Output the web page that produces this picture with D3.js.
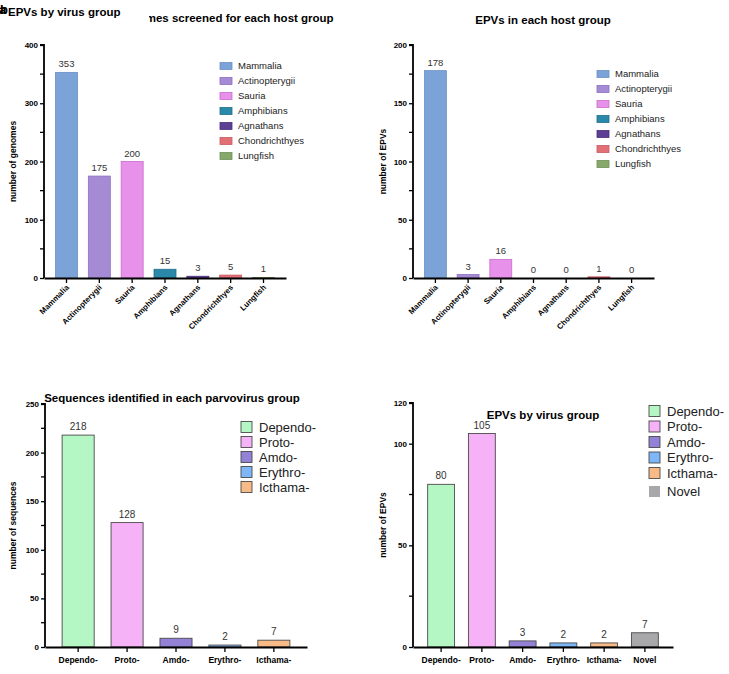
<!DOCTYPE html>
<html><head><meta charset="utf-8">
<script src="https://cdn.jsdelivr.net/npm/d3@7"></script>
<style>
body{margin:0;background:#fff;}
svg{display:block;font-family:"Liberation Sans",Arial,Helvetica,sans-serif;}
</style></head>
<body>
<script>
// ---- data ----
const hostGroups = ["Mammalia","Actinopterygii","Sauria","Amphibians","Agnathans","Chondrichthyes","Lungfish"];
const hostColors = ["#7ba3d8","#a58bd4","#e891ea","#2a88a8","#5c3f94","#e07076","#86a86b"];
const hostStrokes = ["#6a8fc4","#8d6fc4","#c86ccd","#1f6f8c","#4a2f7d","#c85a5f","#6f8f57"];
const genomesScreened = [353,175,200,15,3,5,1];
const hostEPVs = [178,3,16,0,0,1,0];
const parvoGroups = ["Dependo-","Proto-","Amdo-","Erythro-","Icthama-"];
const parvoColors = ["#b4f7c4","#f5b2f7","#9381d6","#7db7f7","#f8bb88"];
const sequencesIdentified = [218,128,9,2,7];
const virusGroups = ["Dependo-","Proto-","Amdo-","Erythro-","Icthama-","Novel"];
const virusColors = ["#b4f7c4","#f5b2f7","#9381d6","#7db7f7","#f8bb88","#a8a8ab"];
const virusEPVs = [80,105,3,2,2,7];
const ticks1 = [0,100,200,300,400], minor1 = [50,150,250,350];
const ticks2 = [0,50,100,150,200], minor2 = [25,75,125,175];
const ticks3 = [0,50,100,150,200,250], minor3 = [25,75,125,175,225];
const ticks4 = [0,50,100,120], minor4 = [25,75];

const W = 729, H = 674;
const svg = d3.select("body").append("svg").attr("width",W).attr("height",H);

function panel(o){
  const g = svg.append("g");
  const x = d3.scaleBand().domain(o.cats).range(o.xr).paddingInner(o.pi).paddingOuter(o.po);
  const y = d3.scaleLinear().domain(o.dom).range(o.yr);
  // bars
  g.selectAll("rect.bar").data(o.vals).join("rect")
    .attr("x",(d,i)=>x(o.cats[i])).attr("width",x.bandwidth())
    .attr("y",d=>y(d)).attr("height",d=>y(0)-y(d))
    .attr("fill",(d,i)=>o.colors[i])
    .attr("stroke",(d,i)=>o.strokes ? o.strokes[i] : "#4a4a4a")
    .attr("stroke-width",o.sw);
  // value labels
  g.selectAll("text.val").data(o.vals).join("text")
    .attr("x",(d,i)=>x(o.cats[i])+x.bandwidth()/2)
    .attr("y",d=>y(d)-o.valOff)
    .attr("text-anchor","middle").attr("font-size",o.valFs).attr("fill","#333")
    .text(d=>d);
  // y axis
  const ya = d3.axisLeft(y).tickValues(o.ticks).tickSize(4).tickPadding(2);
  const yg = g.append("g").attr("transform",`translate(${o.xr[0]},0)`).call(ya);
  yg.select(".domain").attr("stroke","#000").attr("stroke-width",1.8).attr("d",`M-4,${o.yr[1]}H0V${o.yr[0]}`);
  yg.selectAll(".tick line").attr("stroke","#000").attr("stroke-width",1.3);
  yg.selectAll(".tick text").attr("font-size",8).attr("font-weight","bold").attr("fill","#000");
  g.selectAll("line.minor").data(o.minor).join("line")
    .attr("x1",o.xr[0]-4).attr("x2",o.xr[0]).attr("y1",d=>y(d)).attr("y2",d=>y(d))
    .attr("stroke","#000").attr("stroke-width",1.3);
  // x axis
  const xa = d3.axisBottom(x).tickSize(5).tickSizeOuter(0).tickPadding(4);
  const xg = g.append("g").attr("transform",`translate(0,${o.yr[0]})`).call(xa);
  xg.select(".domain").attr("stroke","#000").attr("stroke-width",1.8);
  xg.selectAll(".tick line").attr("stroke","#000").attr("stroke-width",1.3);
  const xt = xg.selectAll(".tick text").attr("font-size",o.xFs).attr("font-weight","bold").attr("fill","#000");
  if(o.rotate){
    xt.attr("text-anchor","end").attr("dy",null).attr("y",0)
      .attr("transform","translate(3,10) rotate(-45)");
  } else {
    xt.attr("y",10).attr("dy","0.71em");
  }
  // y label
  g.append("text").attr("transform",`translate(${o.ylx},${(o.yr[0]+o.yr[1])/2}) rotate(-90)`)
    .attr("text-anchor","middle").attr("font-size",8.5).attr("font-weight","bold").text(o.ylabel);
  // title
  g.append("text").attr("x",o.tx).attr("y",o.ty).attr("text-anchor","middle")
    .attr("font-size",11.5).attr("font-weight","bold").text(o.title);
  // legend
  const lg = g.append("g");
  o.legendCats.forEach((c,i)=>{
    const yy = o.ly + i*o.lstep + (o.lextra && i===o.legendCats.length-1 ? o.lextra : 0);
    lg.append("rect").attr("x",o.lx).attr("y",yy-o.lh/2).attr("width",o.lw).attr("height",o.lh)
      .attr("fill",o.colors[i])
      .attr("stroke", o.noStrokeLast && i===o.legendCats.length-1 ? "none" : (o.strokes ? o.strokes[i] : "#4a4a4a"))
      .attr("stroke-width",o.sw);
    lg.append("text").attr("x",o.lx+o.lw+o.lgap).attr("y",yy).attr("dy","0.35em")
      .attr("font-size",o.lFs).attr("fill","#222").text(c);
  });
}

panel({cats:hostGroups, vals:genomesScreened, colors:hostColors, strokes:hostStrokes, sw:0.8,
  xr:[44,286], yr:[278,45], dom:[0,400], ticks:ticks1, minor:minor1, pi:0.33, po:0.35,
  valOff:5, valFs:9.5, xFs:7.8, rotate:true, ylx:16, ylabel:"number of genomes",
  tx:225, ty:22, title:"Genomes screened for each host group",
  legendCats:hostGroups, lx:220, ly:66, lstep:15, lw:12, lh:7, lgap:6, lFs:9.5});

panel({cats:hostGroups, vals:hostEPVs, colors:hostColors, strokes:hostStrokes, sw:0.8,
  xr:[413,654], yr:[278,45], dom:[0,200], ticks:ticks2, minor:minor2, pi:0.33, po:0.35,
  valOff:5, valFs:9.5, xFs:7.8, rotate:true, ylx:386, ylabel:"number of EPVs",
  tx:543, ty:24, title:"EPVs in each host group",
  legendCats:hostGroups, lx:597, ly:74, lstep:15, lw:12, lh:7, lgap:6, lFs:9.5});

panel({cats:parvoGroups, vals:sequencesIdentified, colors:parvoColors, sw:0.9,
  xr:[45,307], yr:[647,404], dom:[0,250], ticks:ticks3, minor:minor3, pi:0.345, po:0.35,
  valOff:5, valFs:10, xFs:8.5, rotate:false, ylx:16, ylabel:"number of sequences",
  tx:172, ty:402, title:"Sequences identified in each parvovirus group",
  legendCats:parvoGroups, lx:241, ly:427, lstep:15, lw:11, lh:11, lgap:7, lFs:13});

panel({cats:virusGroups, vals:virusEPVs, colors:virusColors, sw:0.9,
  xr:[413,673], yr:[647,403], dom:[0,120], ticks:ticks4, minor:minor4, pi:0.34, po:0.36,
  valOff:5, valFs:10, xFs:8.5, rotate:false, ylx:386, ylabel:"number of EPVs",
  tx:543, ty:419, title:"EPVs by virus group",
  legendCats:virusGroups, lx:649, ly:411, lstep:15.5, lextra:3, noStrokeLast:true, lw:11, lh:11, lgap:7, lFs:13});

// overlay artefact at top-left: pasted title box and panel letters
svg.append("rect").attr("x",0).attr("y",0).attr("width",149).attr("height",30).attr("fill","#fff");
svg.append("text").attr("x",8).attr("y",16).attr("font-size",11.5).attr("font-weight","bold").text("EPVs by virus group");
svg.append("text").attr("x",-1).attr("y",14).attr("font-size",13).attr("font-weight","bold").text("a");
svg.append("text").attr("x",0).attr("y",14).attr("font-size",13).attr("font-weight","bold").text("b");
</script>
</body></html>
